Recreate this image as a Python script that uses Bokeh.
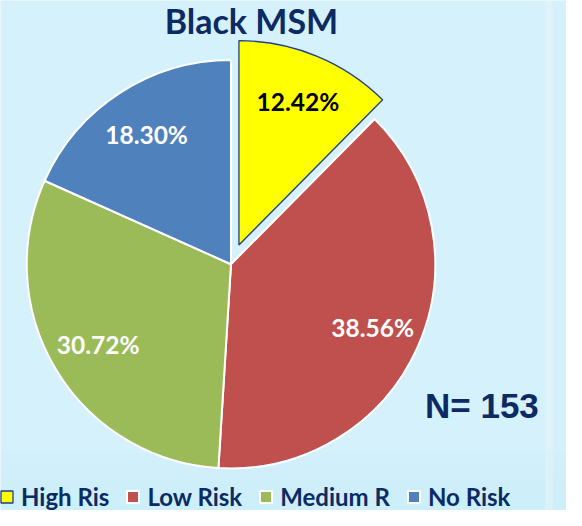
import numpy as np
from bokeh.plotting import figure
from bokeh.models import ColumnDataSource, Legend, LegendItem, Range1d
from bokeh.core.properties import value
from bokeh.embed import file_html
from bokeh.resources import INLINE

# ---- data ----
categories = ["High Ris", "Low Risk", "Medium R", "No Risk"]
counts = [19, 59, 47, 28]
colors = ["#FFFF00", "#C0504D", "#9BBB59", "#4F81BD"]
outline_colors = ["#1F3F8F", "#FFFFFF", "#FFFFFF", "#FFFFFF"]
label_colors = ["#000000", "#FFFFFF", "#FFFFFF", "#FFFFFF"]
exploded = [1, 0, 0, 0]
title_text = "Black MSM"
n_text = "N= 153"

NAVY = "#0C2A63"
BG = "#D5F1FC"

# data coordinates = reference pixel coordinates (y measured upward: 526 - y_ref)
p = figure(width=566, height=510, x_range=Range1d(0, 582), y_range=Range1d(0, 526),
           output_backend="svg", toolbar_location=None, min_border=0)
p.axis.visible = False
p.grid.visible = False
p.outline_line_color = None
p.background_fill_color = BG
p.border_fill_color = BG

# soft backdrop shading (slide background)
band_tops = [60, 45, 30, 15]
for t in band_tops:
    p.quad(left=[0], right=[582], bottom=[0], top=[t], fill_color="#C6EDFA",
           fill_alpha=0.18, line_color=None)
p.quad(left=[560], right=[568], bottom=[0], top=[526], fill_color="#E2F4F7",
       fill_alpha=0.6, line_color=None)

cx, cy, R = 237, 254, 210
explode_dist = 21.5
label_frac = 0.76

vals = np.array(counts, dtype=float)
frac = vals / vals.sum()
ends = np.pi / 2 - 2 * np.pi * np.cumsum(frac)
starts = ends + 2 * np.pi * frac
mids = (starts + ends) / 2
ex = np.array(exploded, dtype=float)
xs = cx + ex * explode_dist * np.cos(mids)
ys = cy + ex * explode_dist * np.sin(mids)

src = ColumnDataSource(dict(lx=xs + label_frac * R * np.cos(mids),
                            ly=ys + label_frac * R * np.sin(mids),
                            pct=[f"{f*100:.2f}%" for f in frac],
                            lc=label_colors))

line_widths = [1.3, 2, 2, 2]
renderers = []
for i in range(len(categories)):
    r = p.wedge(x=xs[i], y=ys[i], radius=R, start_angle=starts[i], end_angle=ends[i],
                direction="clock", fill_color=colors[i], line_color=outline_colors[i],
                line_width=line_widths[i])
    renderers.append(r)

p.text(x="lx", y="ly", text="pct", source=src, text_color="lc",
       text_font=value("Lato"), text_font_style="bold", text_font_size="24.5px",
       text_align="center", text_baseline="middle")

p.text(x=[258], y=[526 - 21], text=[title_text], text_color=NAVY,
       text_font=value("Lato"), text_font_style="bold", text_font_size="34px",
       text_align="center", text_baseline="middle")

p.text(x=[495], y=[526 - 418], text=[n_text], text_color=NAVY,
       text_font=value("Liberation Sans"), text_font_style="bold", text_font_size="35px",
       text_align="center", text_baseline="middle")

legend = Legend(items=[LegendItem(label=c, renderers=[renderers[i]]) for i, c in enumerate(categories)],
                orientation="horizontal", location=(-1, -1),
                glyph_width=15, glyph_height=15, label_standoff=7, spacing=16,
                padding=0, margin=0, background_fill_alpha=0, border_line_alpha=0,
                label_text_font="Lato", label_text_font_style="bold",
                label_text_font_size="24px", label_text_color=NAVY)
p.add_layout(legend)

open("out.html", "w").write(file_html(p, INLINE))
